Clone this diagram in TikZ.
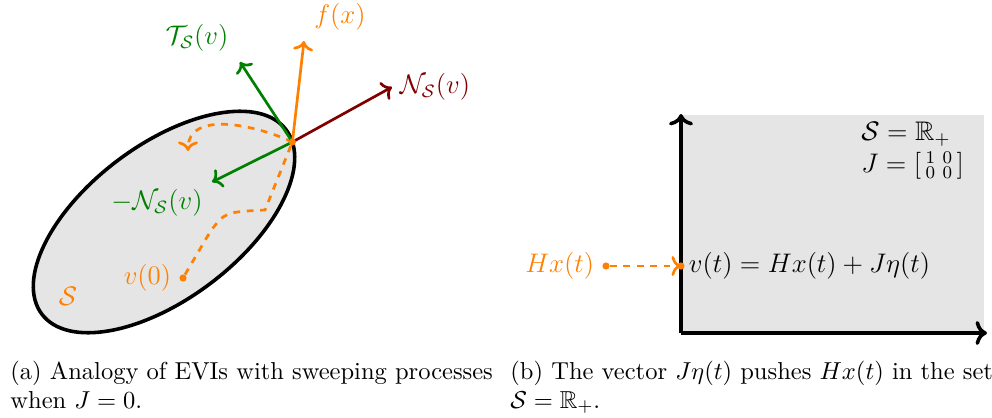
\documentclass[tikz,border=0pt]{standalone}
\usepackage{amsmath,amssymb}
\usetikzlibrary{arrows.meta,positioning,calc}
\definecolor{mygreen}{RGB}{0,128,0}
\definecolor{myorange}{RGB}{255,128,0}
\definecolor{mydarkred}{RGB}{128,0,0}
\definecolor{setgray}{RGB}{229,229,229}
\tikzset{
  vecarrow/.style={->, very thick},
  trajectory/.style={myorange, very thick, dashed},
  setshape/.style={fill=setgray, draw=black, ultra thick},
  axis/.style={->, ultra thick},
  lbl/.style={font=\large},
  pt/.style={circle, fill=myorange, inner sep=0pt, minimum size=3.2pt},
  caption/.style={align=left, anchor=north west, inner sep=0pt,
    font=\fontsize{10.95}{12.6}\selectfont}
}

\begin{document}
\begin{tikzpicture}[x=0.157mm, y=0.157mm]
    \useasboundingbox (0,0) rectangle (992,417);

    % (a) the set S
    \begin{scope}[shift={(164,195)}, rotate=37]
      \draw[setshape] (0,0) ellipse (153 and 77);
      \coordinate (v) at (-10:153 and 77);
    \end{scope}
    \node[lbl, myorange] (Slbl) at (68,121) {$\mathcal{S}$};

    % end points of the vectors at v
    \coordinate (Nend) at (392,330);
    \coordinate (Tend) at (240,355);
    \coordinate (fend) at (304,376);
    \coordinate (mNend) at (212,235);
    \coordinate (turn) at (188,266);

    % trajectory
    \node[pt] (v0) at (183,139) {};
    \node[lbl, myorange, left] (v0lbl) at (v0.west) {$v(0)$};
    \draw[trajectory] (v0) -- (210,185) .. controls (225,205) .. (265,207) -- (v);
    \draw[trajectory, ->] (v) to[out=155, in=90] (turn);

    % vectors
    \draw[vecarrow, mydarkred] (v) -- (Nend);
    \draw[vecarrow, mygreen] (v) -- (Tend);
    \draw[vecarrow, mygreen] (v) -- (mNend);
    \draw[vecarrow, myorange] (v) -- (fend);
    \node[pt] (vdot) at (v) {};

    % labels
    \node[lbl, mydarkred, right] (Nlbl) at (Nend) {$\mathcal{N}_{\mathcal{S}}(v)$};
    \node[lbl, myorange] (flbl) at (340,400) {$f(x)$};
    \node[lbl, mygreen] (Tlbl) at (197,379) {$\mathcal{T}_{\mathcal{S}}(v)$};
    \node[lbl, mygreen] (mNlbl) at (157,214) {$-\mathcal{N}_{\mathcal{S}}(v)$};

    % (b) the set R_+
    \fill[setgray] (681,84) rectangle (984,302);
    \coordinate (O) at (681,84);
    \coordinate (ytop) at (681,303);
    \coordinate (xend) at (987,84);
    \draw[axis] (O) -- (ytop);
    \draw[axis] (O) -- (xend);

    \node[lbl, align=left, anchor=north west, inner sep=0pt] (setlbl) at (861,295)
      {$\mathcal{S} = \mathbb{R}_+$\\ $J = \left[\begin{smallmatrix}1 & 0\\ 0 & 0\end{smallmatrix}\right]$};

    \coordinate (vt) at (681,151);
    \node[pt] (Hdot) at (606,151) {};
    \node[lbl, myorange, left] (Hlbl) at (Hdot.west) {$Hx(t)$};
    \draw[trajectory, ->] (Hdot) -- (vt);
    \node[pt] (vtdot) at (vt) {};
    \node[lbl, right] (vtlbl) at (vt) {$v(t) = Hx(t) + J\eta(t)$};

    % captions
    \node[caption] (capa) at (10,56) {(a) Analogy of EVIs with sweeping processes\\ when $J = 0$.};
    \node[caption] (capb) at (510,56) {(b) The vector $J\eta(t)$ pushes $Hx(t)$ in the set\\ $\mathcal{S} = \mathbb{R}_+$.};
  \end{tikzpicture}
\end{document}
